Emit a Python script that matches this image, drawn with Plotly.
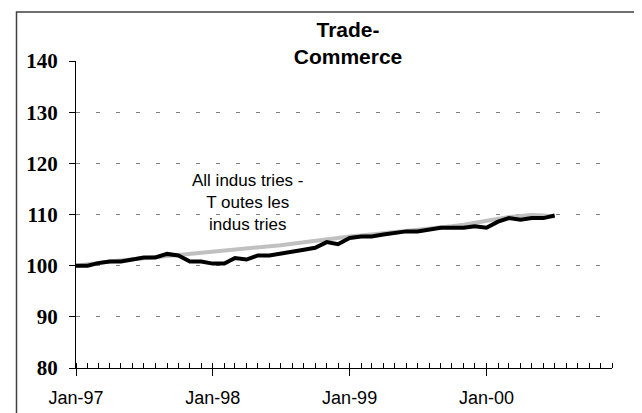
import plotly.graph_objects as go
import pandas as pd

# ---- data ----
months = pd.date_range("1997-01-01", "2000-07-01", freq="MS").strftime("%Y-%m-%d").tolist()

trade = [100.0, 100.0, 100.5, 100.8, 100.8, 101.2, 101.6, 101.6, 102.3, 102.0,
         100.8, 100.8, 100.4, 100.4, 101.5, 101.2, 102.0, 102.0, 102.3, 102.7,
         103.1, 103.5, 104.6, 104.2, 105.4, 105.7, 105.7, 106.1, 106.3, 106.7,
         106.7, 107.0, 107.4, 107.4, 107.4, 107.7, 107.4, 108.6, 109.3, 109.0,
         109.3, 109.3, 109.8]

all_ind = [100.0, 100.2, 100.5, 100.8, 101.0, 101.2, 101.5, 101.7, 101.9, 102.1,
           102.3, 102.5, 102.7, 102.9, 103.1, 103.3, 103.6, 103.8, 104.0, 104.3,
           104.6, 104.9, 105.3, 105.5, 105.7, 105.9, 106.1, 106.3, 106.5, 106.7,
           106.9, 107.1, 107.4, 107.7, 108.0, 108.4, 108.8, 109.2, 109.5, 109.7,
           109.9, 109.8, 109.6]

y_ticks = [80, 90, 100, 110, 120, 130, 140]
title_text = "<b>Trade-<br>Commerce</b>"
annot_text = "All indus tries -<br>T outes les<br>indus tries"

# ---- figure ----
W, H = 642, 413
L, R, T, B = 68, 38, 53, 53
pw, ph = W - L - R, H - T - B

fig = go.Figure()
fig.add_trace(go.Scatter(x=months, y=all_ind, mode="lines",
                         line=dict(color="#c0c0c0", width=4), name="All industries",
                         showlegend=False))
fig.add_trace(go.Scatter(x=months, y=trade, mode="lines",
                         line=dict(color="#000000", width=4), name="Trade",
                         showlegend=False))

fig.update_layout(
    width=W, height=H,
    margin=dict(l=L, r=R, t=T, b=B),
    paper_bgcolor="white", plot_bgcolor="white",
    title=dict(text=title_text, x=340 / W, xanchor="center",
               y=1 - 29 / H, yanchor="top",
               font=dict(family="Liberation Sans, Arial", size=21, color="black")),
)

fig.update_xaxes(
    type="date", range=["1997-01-01", "2000-12-01"],
    tickformat="%b-%y", dtick="M12", tick0="1997-01-01",
    ticks="outside", ticklen=7, tickcolor="black", tickwidth=1,
    ticklabelstandoff=6,
    minor=dict(ticks="inside", dtick="M1", ticklen=5, tickcolor="black", tickwidth=1, showgrid=False),
    showline=True, linecolor="black", linewidth=1,
    showgrid=False, zeroline=False,
    tickfont=dict(family="Liberation Sans, Arial", size=18, color="black"),
)

fig.update_yaxes(
    range=[80, 140], tickvals=y_ticks,
    ticks="outside", ticklen=6, tickcolor="black", tickwidth=1,
    ticklabelstandoff=7,
    showline=True, linecolor="black", linewidth=1,
    showgrid=True, gridcolor="#808080", gridwidth=1, griddash="4px,16px",
    zeroline=False,
    tickfont=dict(family="Liberation Serif, Times New Roman", size=21, color="black", weight="bold"),
)

# annotation label
fig.add_annotation(text=annot_text, x=(239 - L) / pw, xref="paper",
                   y=(H - B - 194) / ph, yref="paper",
                   showarrow=False, xanchor="center", yanchor="middle",
                   font=dict(family="Liberation Sans, Arial", size=17, color="black"),
                   align="center")

# outer chart border
fig.add_shape(type="rect", xref="paper", yref="paper",
              x0=(8.5 - L) / pw, x1=(638 - L) / pw,
              y0=(H - B - 425) / ph, y1=(H - B - 4) / ph,
              line=dict(color="#404040", width=1.5), fillcolor="rgba(0,0,0,0)",
              layer="below")

fig.write_html("out.html")
